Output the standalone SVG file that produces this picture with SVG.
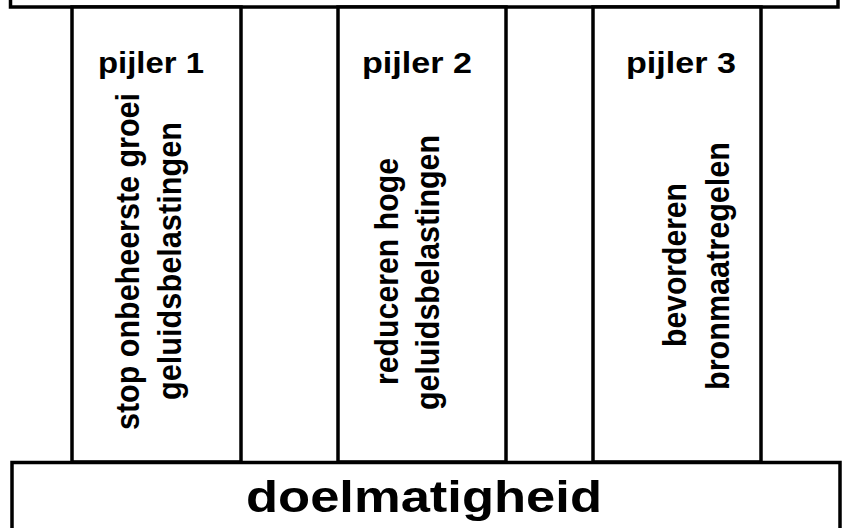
<svg xmlns="http://www.w3.org/2000/svg" width="843" height="528" viewBox="0 0 843 528">
<style>
.box{fill:#fff;stroke:#000;stroke-width:3.5}
.t{font-family:"Liberation Sans",Arial,sans-serif;font-weight:bold;fill:#000;text-anchor:middle}
.h{font-size:29px}
.v{font-size:34px}
.b{font-size:45px}
</style>
<rect width="843" height="528" fill="#fff"/>
<g id="top-bar">
<rect class="box" x="10.5" y="-20" width="827.5" height="27"/>
</g>
<g id="pijler1">
<rect class="box" x="72" y="7" width="169" height="455"/>
<text class="t h" x="151" y="73" textLength="106" lengthAdjust="spacingAndGlyphs">pijler 1</text>
<text class="t v" x="138.5" y="261.5" transform="rotate(-90 138.5 261.5)" textLength="337" lengthAdjust="spacingAndGlyphs">stop onbeheerste groei</text>
<text class="t v" x="180.5" y="261" transform="rotate(-90 180.5 261)" textLength="278" lengthAdjust="spacingAndGlyphs">geluidsbelastingen</text>
</g>
<g id="pijler2">
<rect class="box" x="338" y="7" width="168" height="455"/>
<text class="t h" x="417" y="73" textLength="110" lengthAdjust="spacingAndGlyphs">pijler 2</text>
<text class="t v" x="397.5" y="271.5" transform="rotate(-90 397.5 271.5)" textLength="227" lengthAdjust="spacingAndGlyphs">reduceren hoge</text>
<text class="t v" x="438.5" y="272.5" transform="rotate(-90 438.5 272.5)" textLength="275" lengthAdjust="spacingAndGlyphs">geluidsbelastingen</text>
</g>
<g id="pijler3">
<rect class="box" x="593" y="7" width="168" height="455"/>
<text class="t h" x="681" y="73" textLength="110" lengthAdjust="spacingAndGlyphs">pijler 3</text>
<text class="t v" x="685.5" y="265" transform="rotate(-90 685.5 265)" textLength="164" lengthAdjust="spacingAndGlyphs">bevorderen</text>
<text class="t v" x="728.5" y="266" transform="rotate(-90 728.5 266)" textLength="248" lengthAdjust="spacingAndGlyphs">bronmaatregelen</text>
</g>
<g id="doelmatigheid">
<rect class="box" x="12" y="462.5" width="828" height="80"/>
<text class="t b" x="424" y="512" textLength="356" lengthAdjust="spacingAndGlyphs">doelmatigheid</text>
</g>
<g id="connectors"/>
</svg>
